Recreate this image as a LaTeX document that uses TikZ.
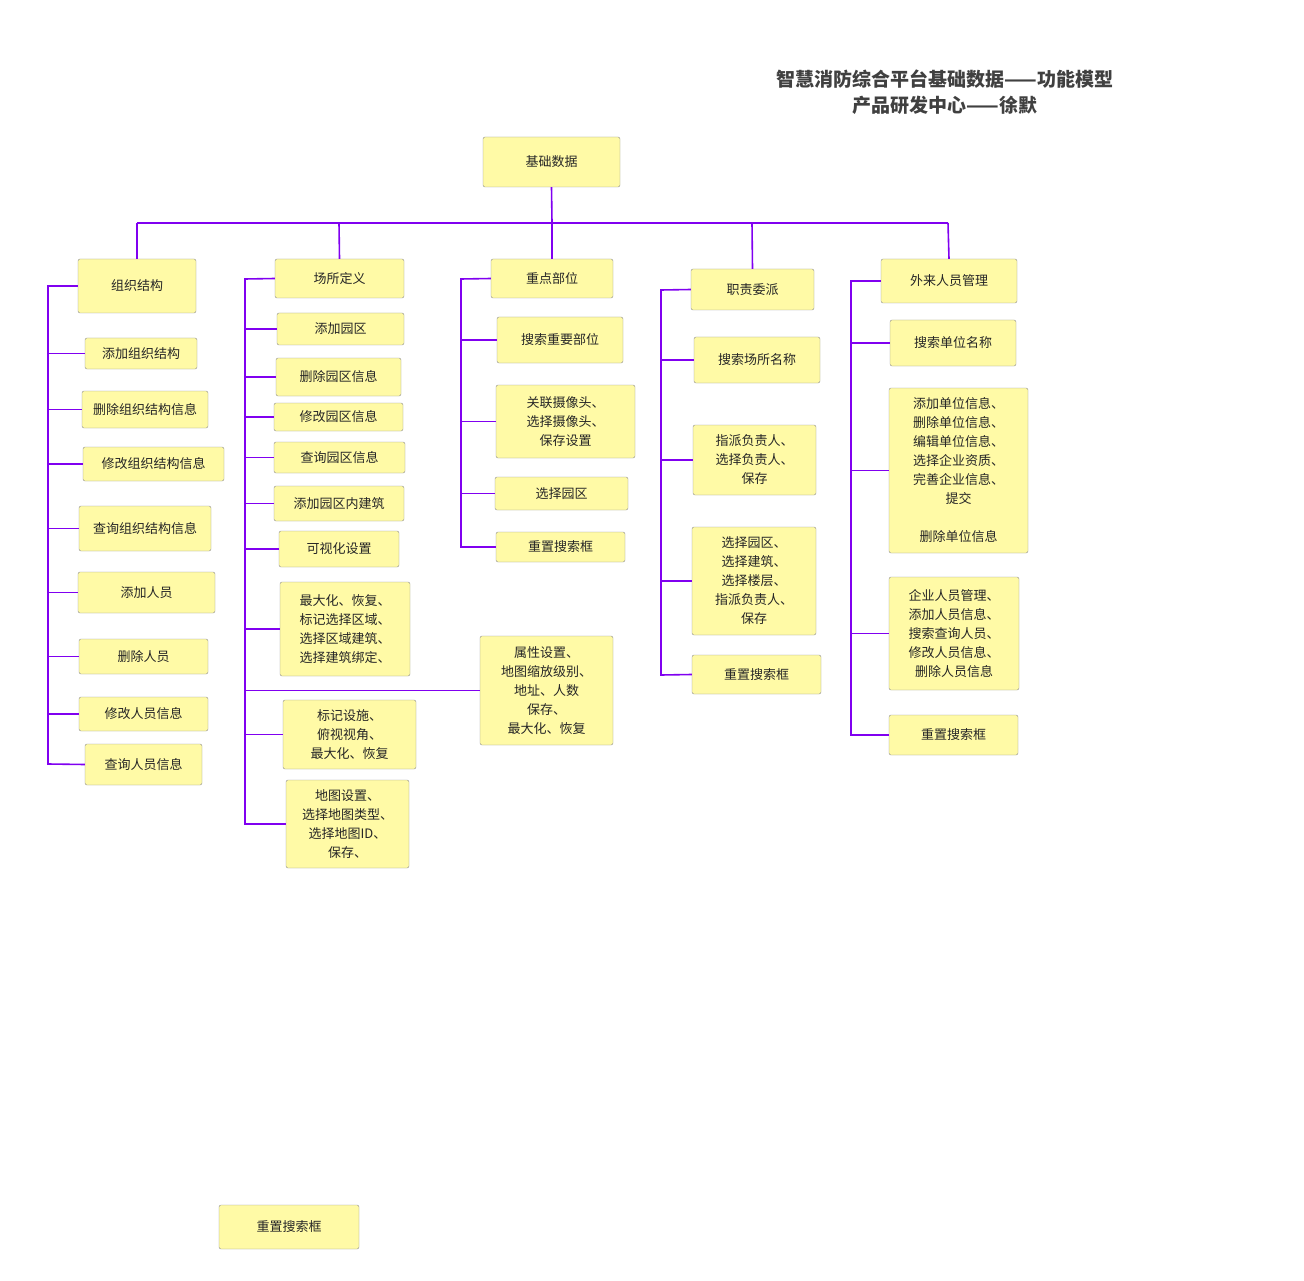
\documentclass[tikz,border=0pt]{standalone}
\usepackage{fontspec}
\newfontfamily\cjk{Noto Sans CJK SC}
\begin{document}
\begin{tikzpicture}[x=1pt,y=-1pt,
  bxs/.style={draw=black!45,fill=yellow!35!white,rounded corners=2pt,inner sep=0pt,align=center,font=\cjk\fontsize{13}{19}\selectfont,text=black!85},
  ln/.style={draw=violet!80!blue,line width=1.6pt}]
\definecolor{lnc}{RGB}{128,0,240}
\tikzset{ln/.style={draw=lnc,line width=1.6pt}}
\useasboundingbox (0,0) rectangle (1304,1281);
\newcommand\bx[6]{\node[bxs,minimum width={#4-#2},minimum height={#5-#3}] (#1) at ({(#2+#4)/2},{(#3+#5)/2}) {#6};}
\node[font=\cjk\bfseries\fontsize{19}{26}\selectfont,text=black!75,align=center] (title) at (945,92) {智慧消防综合平台基础数据——功能模型\\产品研发中心——徐默};
% bus
\coordinate (b0) at (552,223);
\draw[ln] (137,223) -- (948,223);
\bx{root}{483}{137}{620}{187}{基础数据}
\draw[ln] (root.south) -- (b0);
% col1
\bx{a0}{78}{259}{196}{313}{组织结构}
\bx{a1}{85}{338}{197}{369}{添加组织结构}
\bx{a2}{82}{391}{208}{428}{删除组织结构信息}
\bx{a3}{83}{447}{224}{481}{修改组织结构信息}
\bx{a4}{79}{506}{211}{551}{查询组织结构信息}
\bx{a5}{78}{572}{215}{613}{添加人员}
\bx{a6}{79}{639}{208}{674}{删除人员}
\bx{a7}{79}{697}{208}{731}{修改人员信息}
\bx{a8}{85}{744}{202}{785}{查询人员信息}
\draw[ln] (137,223) -- (a0.north);
\draw[ln] (a0.west) -- (48,286) -- (48,764) -- (a8.west);
\foreach \n in {a1,a2,a3,a4,a5,a6,a7} \draw[ln] (\n.west) -- (48,0 |- \n.west);
% col2
\bx{c0}{275}{259}{404}{298}{场所定义}
\bx{c1}{277}{313}{404}{345}{添加园区}
\bx{c2}{276}{358}{401}{396}{删除园区信息}
\bx{c3}{274}{403}{403}{431}{修改园区信息}
\bx{c4}{274}{442}{405}{473}{查询园区信息}
\bx{c5}{274}{486}{404}{521}{添加园区内建筑}
\bx{c6}{279}{531}{399}{567}{可视化设置}
\bx{c7}{280}{582}{410}{676}{最大化、恢复、\\标记选择区域、\\选择区域建筑、\\选择建筑绑定、}
\bx{c8}{283}{700}{416}{769}{标记设施、\\俯视视角、\\最大化、恢复}
\bx{c9}{286}{780}{409}{868}{地图设置、\\选择地图类型、\\选择地图ID、\\保存、}
\bx{c10}{480}{636}{613}{745}{属性设置、\\地图缩放级别、\\地址、人数\\保存、\\最大化、恢复}
\draw[ln] (339,223) -- (c0.north);
\draw[ln] (c0.west) -- (245,279) -- (245,824) -- (c9.west);
\foreach \n in {c1,c2,c3,c4,c5,c6,c7,c8} \draw[ln] (\n.west) -- (245,0 |- \n.west);
\draw[ln] (c10.west) -- (245,0 |- c10.west);
% col3
\bx{d0}{491}{259}{613}{298}{重点部位}
\bx{d1}{497}{317}{623}{363}{搜索重要部位}
\bx{d2}{496}{385}{635}{458}{关联摄像头、\\选择摄像头、\\保存设置}
\bx{d3}{495}{477}{628}{510}{选择园区}
\bx{d4}{496}{532}{625}{562}{重置搜索框}
\draw[ln] (b0) -- (d0.north);
\draw[ln] (d0.west) -- (461,279) -- (461,547) -- (d4.west);
\foreach \n in {d1,d2,d3} \draw[ln] (\n.west) -- (461,0 |- \n.west);
% col4
\bx{e0}{691}{269}{814}{310}{职责委派}
\bx{e1}{694}{337}{820}{383}{搜索场所名称}
\bx{e2}{693}{425}{816}{495}{指派负责人、\\选择负责人、\\保存}
\bx{e3}{692}{527}{816}{635}{选择园区、\\选择建筑、\\选择楼层、\\指派负责人、\\保存}
\bx{e4}{692}{655}{821}{694}{重置搜索框}
\draw[ln] (752,223) -- (e0.north);
\draw[ln] (e0.west) -- (661,290) -- (661,675) -- (e4.west);
\foreach \n in {e1,e2,e3} \draw[ln] (\n.west) -- (661,0 |- \n.west);
% col5
\bx{f0}{881}{259}{1017}{303}{外来人员管理}
\bx{f1}{890}{320}{1016}{366}{搜索单位名称}
\bx{f2}{889}{388}{1028}{553}{添加单位信息、\\删除单位信息、\\编辑单位信息、\\选择企业资质、\\完善企业信息、\\提交\\ \\删除单位信息}
\bx{f3}{889}{577}{1019}{690}{企业人员管理、\\添加人员信息、\\搜索查询人员、\\修改人员信息、\\删除人员信息}
\bx{f4}{889}{715}{1018}{755}{重置搜索框}
\draw[ln] (948,223) -- (f0.north);
\draw[ln] (f0.west) -- (851,281) -- (851,735) -- (f4.west);
\foreach \n in {f1,f2,f3} \draw[ln] (\n.west) -- (851,0 |- \n.west);
% lone
\bx{g}{219}{1205}{359}{1249}{重置搜索框}
\end{tikzpicture}
\end{document}
